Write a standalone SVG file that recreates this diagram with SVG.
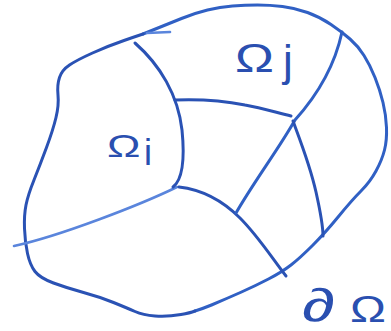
<svg xmlns="http://www.w3.org/2000/svg" width="391" height="331" viewBox="0 0 391 331">
<style>
.ln{fill:none;stroke:#3060c4;stroke-width:3;stroke-linecap:round;stroke-linejoin:round}
.dk{stroke:#2a52b4}
.lt{stroke:#5a85dc;stroke-width:2.6}
.tx{font-family:"Liberation Sans","DejaVu Sans",sans-serif;fill:#2a4fb0}
</style>
<rect width="391" height="331" fill="#ffffff"/>
<g id="boundary">
<path class="ln" d="M143,34 Q168,24 181.5,18.5 Q195,13 207.5,10 Q220,7 232.5,6 Q245,5 257.5,5 Q270,5 282.5,6.5 Q295,8 307.5,12.5 Q320,17 331,24.5 Q342,32 350,39 Q358,46 364,55.5 Q370,65 375,77.5 Q380,90 383,102.5 Q386,115 386.5,127.5 Q387,140 384.5,150 Q382,160 376,171 Q370,182 361,191 Q352,200 338.5,216.5 Q325,233 312.5,245.5 Q300,258 291,265 Q282,272 268.5,279 Q255,286 241.5,292 Q228,298 211.5,305 Q203,308.5 195,311"/>
<path class="ln dk" d="M195,311 Q190,313 181,314.5 Q167,317 155,316 Q143,315 135,311.5 Q127,308 113.5,302.5 Q100,297 83.5,292.5 Q67,288 53.5,283 Q40,278 35,271.5 Q30,265 27.5,253.5 Q25,242 24.5,228.5 Q24,215 26,205 Q28,195 34,180 Q40,165 46.5,147.5 Q53,130 56,117.5 Q59,105 58,95 Q57,85 59.5,77.5 Q62,70 69.5,65 Q77,60 92.5,53 Q108,46 124,40.5 Q134,37 143,34"/>
<path class="ln lt" stroke-width="2" d="M147,33 L170,32"/>
</g>
<g id="connectors">
<path class="ln lt" d="M14,246 C60,236 140,205 177,187"/>
<path class="ln dk" d="M179,187 C205,190 225,203 240,218 C258,236 272,258 286,276"/>
<path class="ln dk" d="M135,43 C160,65 178,95 182,130 C185,160 182,180 173,187"/>
<path class="ln dk" d="M175,100 C200,99 225,101 245,105 C262,108 278,113 291,116"/>
<path class="ln" d="M342,32 C336,60 322,90 295,120 C278,150 255,180 236,213"/>
<path class="ln dk" d="M293,121 C300,140 310,165 316,192 C320,210 323,225 323,236"/>
</g>
<g id="omega-i">
<text class="tx" transform="translate(107,157) scale(1.4,1)" font-size="32">Ω</text>
<text class="tx" x="144" y="165" font-size="36">i</text>
</g>
<g id="omega-j">
<text class="tx" transform="translate(235,72) scale(1.27,1)" font-size="41">Ω</text>
<text class="tx" x="283" y="76" font-size="44">j</text>
</g>
<g id="boundary-label">
<text class="tx" transform="translate(302,321) scale(1.45,1)" font-size="46">∂</text>
<text class="tx" transform="translate(350,322) scale(1.3,1)" font-size="37">Ω</text>
</g>
</svg>
